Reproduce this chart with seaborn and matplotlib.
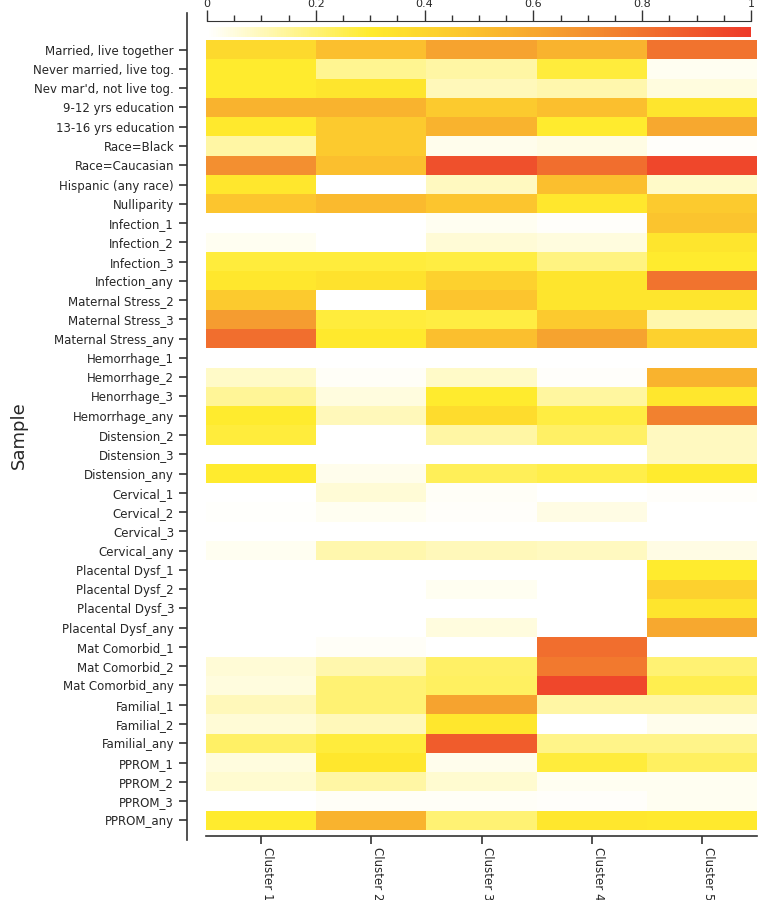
import numpy as np
import pandas as pd
import matplotlib
matplotlib.use('Agg')
import matplotlib.pyplot as plt
import seaborn as sns
from matplotlib.colors import LinearSegmentedColormap

# row labels (top to bottom) and cluster names
samples = [
    "Married, live together", "Never married, live tog.", "Nev mar'd, not live tog.",
    "9-12 yrs education", "13-16 yrs education", "Race=Black", "Race=Caucasian",
    "Hispanic (any race)", "Nulliparity", "Infection_1", "Infection_2", "Infection_3",
    "Infection_any", "Maternal Stress_2", "Maternal Stress_3", "Maternal Stress_any",
    "Hemorrhage_1", "Hemorrhage_2", "Henorrhage_3", "Hemorrhage_any",
    "Distension_2", "Distension_3", "Distension_any", "Cervical_1", "Cervical_2",
    "Cervical_3", "Cervical_any", "Placental Dysf_1", "Placental Dysf_2",
    "Placental Dysf_3", "Placental Dysf_any", "Mat Comorbid_1", "Mat Comorbid_2",
    "Mat Comorbid_any", "Familial_1", "Familial_2", "Familial_any", "PPROM_1",
    "PPROM_2", "PPROM_3", "PPROM_any",
]
clusters = ["Cluster 1", "Cluster 2", "Cluster 3", "Cluster 4", "Cluster 5"]

# values per cluster
cluster_1 = [0.38, 0.30, 0.30, 0.55, 0.31, 0.13, 0.70, 0.32, 0.47, 0.00, 0.02, 0.28, 0.32, 0.45,
             0.65, 0.82, 0.00, 0.08, 0.15, 0.30, 0.28, 0.00, 0.30, 0.00, 0.005, 0.00, 0.02, 0.00,
             0.00, 0.00, 0.00, 0.00, 0.06, 0.05, 0.10, 0.06, 0.22, 0.05, 0.07, 0.00, 0.30]
cluster_2 = [0.50, 0.16, 0.33, 0.55, 0.45, 0.45, 0.50, 0.00, 0.52, 0.00, 0.00, 0.28, 0.34, 0.00,
             0.28, 0.31, 0.00, 0.015, 0.05, 0.10, 0.00, 0.00, 0.03, 0.06, 0.02, 0.00, 0.12, 0.00,
             0.00, 0.00, 0.00, 0.015, 0.12, 0.20, 0.20, 0.10, 0.28, 0.32, 0.13, 0.015, 0.55]
cluster_3 = [0.62, 0.13, 0.10, 0.45, 0.55, 0.03, 0.92, 0.09, 0.47, 0.02, 0.06, 0.27, 0.42, 0.47,
             0.27, 0.50, 0.00, 0.08, 0.30, 0.37, 0.13, 0.00, 0.24, 0.015, 0.01, 0.00, 0.10, 0.00,
             0.02, 0.00, 0.05, 0.00, 0.22, 0.23, 0.62, 0.32, 0.88, 0.03, 0.07, 0.015, 0.20]
cluster_4 = [0.55, 0.28, 0.12, 0.50, 0.30, 0.04, 0.82, 0.50, 0.32, 0.01, 0.05, 0.18, 0.33, 0.33,
             0.45, 0.62, 0.00, 0.01, 0.14, 0.27, 0.22, 0.00, 0.26, 0.00, 0.04, 0.00, 0.09, 0.00,
             0.00, 0.00, 0.00, 0.82, 0.78, 0.95, 0.13, 0.00, 0.17, 0.28, 0.02, 0.01, 0.32]
cluster_5 = [0.80, 0.02, 0.05, 0.33, 0.60, 0.01, 0.95, 0.08, 0.45, 0.48, 0.33, 0.30, 0.80, 0.33,
             0.12, 0.42, 0.00, 0.55, 0.32, 0.75, 0.09, 0.09, 0.30, 0.01, 0.00, 0.00, 0.04, 0.30,
             0.42, 0.33, 0.60, 0.00, 0.20, 0.25, 0.13, 0.03, 0.17, 0.23, 0.02, 0.02, 0.31]

df = pd.DataFrame({c: v for c, v in zip(clusters, [cluster_1, cluster_2, cluster_3, cluster_4, cluster_5])},
                  index=samples)

cmap = LinearSegmentedColormap.from_list(
    "wyor", [(0.0, "#ffffff"), (0.3, "#ffeb2d"), (0.5, "#fbbf2e"),
             (0.7, "#f39030"), (1.0, "#ee3a2a")])

sns.set_style("white")
plt.rcParams['font.family'] = ['DejaVu Sans']

fig = plt.figure(figsize=(7.65, 9), dpi=100)
ax = fig.add_axes([206 / 765, 70 / 900, 551 / 765, 790 / 900])
cax = fig.add_axes([207 / 765, 863 / 900, 544 / 765, 10 / 900])

sns.heatmap(df, ax=ax, cmap=cmap, vmin=0, vmax=1, cbar=True, cbar_ax=cax,
            cbar_kws={"orientation": "horizontal"})

# axes styling
for s in ["top", "right"]:
    ax.spines[s].set_visible(False)
ax.spines["left"].set_visible(True)
ax.spines["bottom"].set_visible(True)
ax.spines["left"].set_position(("outward", 14))
ax.spines["bottom"].set_position(("outward", 4))
ax.spines["left"].set_bounds(-1.4, 41.5)
for s in ["left", "bottom"]:
    ax.spines[s].set_color("#333333")
    ax.spines[s].set_linewidth(1.2)

ax.tick_params(axis="y", left=True, length=6, width=1.2, color="#333333",
               labelsize=8.5, pad=3)
ax.tick_params(axis="x", bottom=True, length=6, width=1.2, color="#333333",
               labelsize=8.5, pad=2)
ax.set_yticklabels(samples, rotation=0)
ax.set_xticklabels(clusters, rotation=270, ha="left", va="top")
ax.set_xlabel("")
ax.set_ylabel("Sample", fontsize=13, labelpad=4)

# colorbar on top with ticks above
cax.xaxis.set_ticks_position("top")
cax.set_xticks([0, 0.2, 0.4, 0.6, 0.8, 1.0], ["0", "0.2", "0.4", "0.6", "0.8", "1"])
cax.set_xticks(np.arange(0, 1.0001, 0.05), minor=True)
cax.tick_params(axis="x", which="major", length=8, width=1, labelsize=8, pad=1, color="#333333")
cax.tick_params(axis="x", which="minor", length=4, width=1, color="#333333", top=True)
for s in cax.spines.values():
    s.set_visible(False)
cax.spines["top"].set_visible(True)
cax.spines["top"].set_position(("outward", 4))
cax.spines["top"].set_color("#333333")

fig.savefig("out.png", dpi=100)
